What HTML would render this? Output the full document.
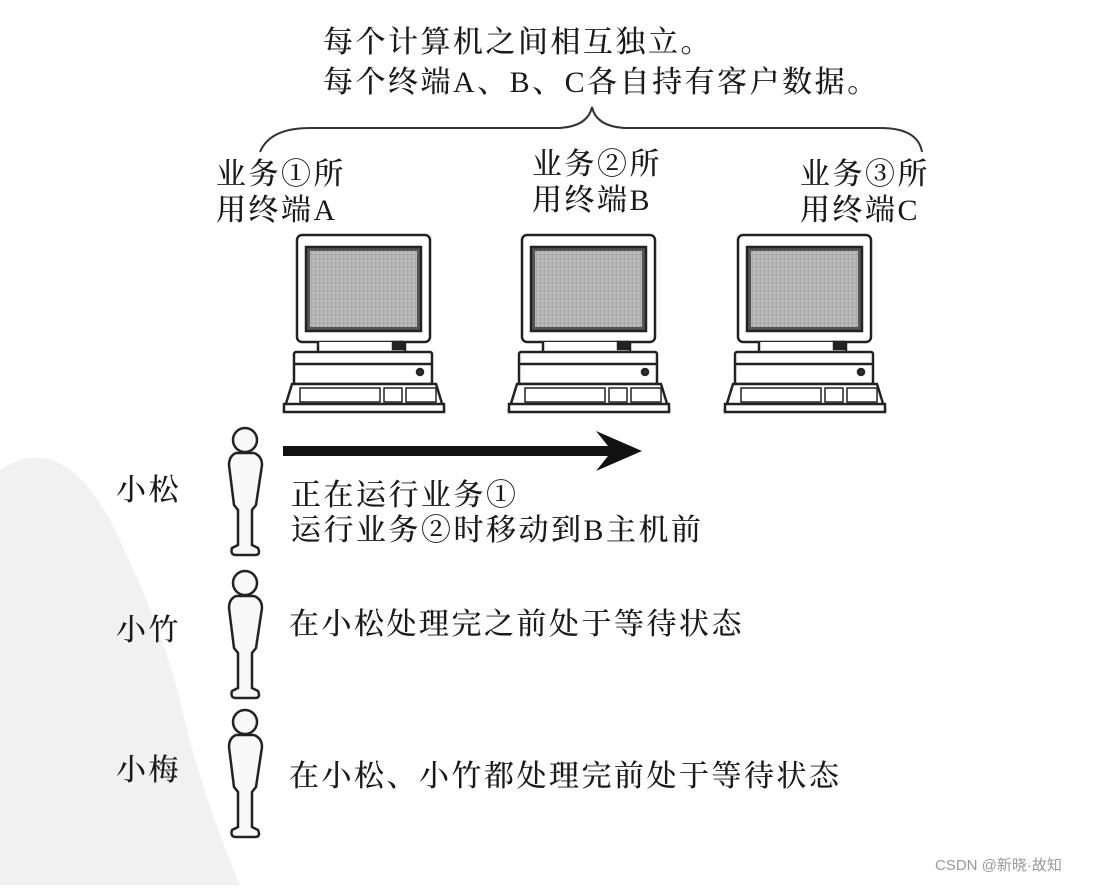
<!DOCTYPE html>
<html><head><meta charset="utf-8"><style>
html,body{margin:0;padding:0;background:#fff;}
svg text{font-family:"Liberation Serif","Noto Serif CJK SC",serif;font-size:30px;fill:#1a1a1a;font-weight:500;letter-spacing:2.5px;}
</style></head><body>
<svg width="1101" height="885" viewBox="0 0 1101 885" xmlns="http://www.w3.org/2000/svg">
<defs>
<pattern id="dots" width="4" height="4" patternUnits="userSpaceOnUse"><rect width="4" height="4" fill="#b4b4b4"/><rect x="1" y="1" width="1" height="1" fill="#d8d8d8"/><rect x="3" y="2" width="1" height="1" fill="#909090"/></pattern>
<g id="pc" fill="#fff" stroke="#222" stroke-width="2.5">
<rect x="297" y="235" width="133" height="107" rx="5"/>
<rect x="306" y="247" width="115" height="84" fill="#555"/>
<rect x="310" y="251" width="107" height="76" fill="url(#dots)" stroke="none"/>
<path d="M318 342 L318 352 Q360 360 405 352 L405 342"/>
<rect x="393" y="342" width="10" height="7" fill="#222"/>
<rect x="294" y="352" width="138" height="32" rx="2"/>
<line x1="294" y1="364" x2="432" y2="364"/>
<circle cx="420" cy="372" r="3" fill="#333"/>
<path d="M292 384 L436 384 L444 410 L284 410 Z"/>
<rect x="284" y="404" width="160" height="8"/>
<rect x="300" y="388" width="80" height="14" stroke-width="1.5"/>
<rect x="384" y="388" width="18" height="14" stroke-width="1.5"/>
<rect x="406" y="388" width="30" height="14" stroke-width="1.5"/>
</g>
<g id="man" fill="#f8f8f8" stroke="#222" stroke-width="2.5">
<circle cx="245" cy="440" r="12"/>
<path d="M236 453 Q229 456 229 465 L234 505 L238 510 L238 545 L232 548 Q230 555 236 555 L255 555 Q261 555 258 548 L252 545 L252 510 L256 505 L262 465 Q262 456 254 453 Z"/>
</g>
</defs>
<path d="M0 470 Q60 430 110 520 Q160 620 180 700 Q200 790 240 885 L0 885 Z" fill="#f1f1f1"/>
<text x="323" y="52">每个计算机之间相互独立。</text>
<text x="323" y="92">每个终端A、B、C各自持有客户数据。</text>
<path d="M260 152 Q270 128 310 128 L560 128 Q588 126 592 107 Q596 126 624 128 L880 128 Q918 128 922 152" fill="none" stroke="#333" stroke-width="2"/>
<text x="216" y="184">业务①所</text>
<text x="216" y="220">用终端A</text>
<text x="532" y="174">业务②所</text>
<text x="532" y="210">用终端B</text>
<text x="800" y="184">业务③所</text>
<text x="800" y="220">用终端C</text>
<use href="#pc"/>
<use href="#pc" x="225"/>
<use href="#pc" x="441"/>
<path d="M283 446 L608 446 L596 431 L642 451 L596 471 L608 456 L283 456 Z" fill="#111"/>
<use href="#man"/>
<use href="#man" y="143"/>
<use href="#man" y="282"/>
<text x="116" y="500">小松</text>
<text x="116" y="640">小竹</text>
<text x="116" y="780">小梅</text>
<text x="291" y="505">正在运行业务①</text>
<text x="291" y="540">运行业务②时移动到B主机前</text>
<text x="289" y="634">在小松处理完之前处于等待状态</text>
<text x="289" y="786">在小松、小竹都处理完前处于等待状态</text>
<text x="935" y="870" style="font-family:'Liberation Sans','Noto Sans CJK SC',sans-serif;font-size:15px;font-weight:400;fill:#999;letter-spacing:0">CSDN @新晓·故知</text>
</svg>
</body></html>
